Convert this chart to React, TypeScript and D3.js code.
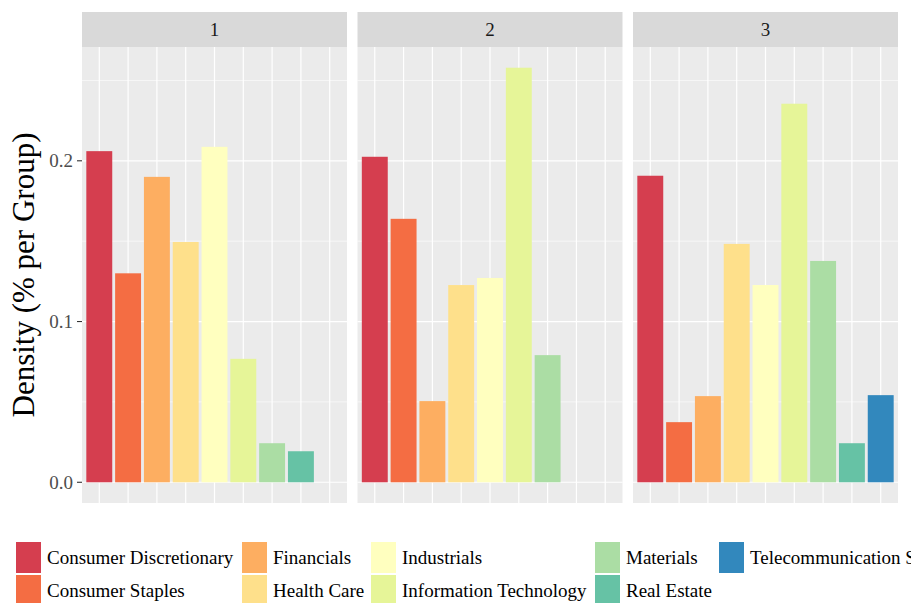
import React from "react";
import * as d3 from "d3";

const categories = [
  "Consumer Discretionary",
  "Consumer Staples",
  "Financials",
  "Health Care",
  "Industrials",
  "Information Technology",
  "Materials",
  "Real Estate",
  "Telecommunication Services",
];
const colors = ["#D53E4F", "#F46D43", "#FDAE61", "#FEE08B", "#FFFFBF", "#E6F598", "#ABDDA4", "#66C2A5", "#3288BD"];
const groups = ["1", "2", "3"];
const group1 = [0.206, 0.13, 0.19, 0.1495, 0.2087, 0.0768, 0.0243, 0.0193, null];
const group2 = [0.2025, 0.1639, 0.0505, 0.1227, 0.1271, 0.2579, 0.0791, null, null];
const group3 = [0.1907, 0.0374, 0.0536, 0.1483, 0.1227, 0.2355, 0.1377, 0.0243, 0.0542];
const yTicks = [0, 0.1, 0.2];
const yMinor = [0.05, 0.15, 0.25];
const yTitle = "Density (% per Group)";

const W = 911;
const H = 603;
const FONT = "'Liberation Serif', 'Times New Roman', serif";

export default function App() {
  const series = [group1, group2, group3];
  const all = series.flat().filter((v) => v != null) as number[];
  const maxV = d3.max(all) as number;
  const top = 47;
  const bottom = 503;
  const y = d3.scaleLinear().domain([-maxV * 0.05, maxV * 1.05]).range([bottom, top]);
  const panelX = [82, 357.5, 633];
  const panelW = 265;
  const stripTop = 12;

  const legendCols = [16, 242, 371, 595, 719];
  const legendRows = [542, 575];
  const keyW = 25;
  const keyH = 31;

  return (
    <svg width={W} height={H} style={{ position: "absolute", left: 0, top: 0, fontFamily: FONT }}>
      <rect width={W} height={H} fill="#fff" />
      {groups.map((g, gi) => {
        const x0 = panelX[gi];
        const step = panelW / (categories.length - 1 + 1.2);
        const cx = (i: number) => x0 + (i + 0.6) * step;
        const bw = step * 0.9;
        return (
          <g key={g}>
            <rect x={x0} y={top} width={panelW} height={bottom - top} fill="#EBEBEB" />
            {yMinor.map((t) => (
              <line key={"m" + t} x1={x0} x2={x0 + panelW} y1={y(t)} y2={y(t)} stroke="#fff" strokeWidth={0.6} />
            ))}
            {yTicks.map((t) => (
              <line key={"M" + t} x1={x0} x2={x0 + panelW} y1={y(t)} y2={y(t)} stroke="#fff" strokeWidth={1.2} />
            ))}
            {categories.map((c, i) => (
              <line key={"v" + c} x1={cx(i)} x2={cx(i)} y1={top} y2={bottom} stroke="#fff" strokeWidth={1.2} />
            ))}
            {series[gi].map((v, i) =>
              v == null ? null : (
                <rect
                  key={"b" + i}
                  x={cx(i) - bw / 2}
                  y={y(v)}
                  width={bw}
                  height={y(0) - y(v)}
                  fill={colors[i]}
                />
              )
            )}
            <rect x={x0} y={stripTop} width={panelW} height={top - stripTop} fill="#D9D9D9" />
            <text
              x={x0 + panelW / 2}
              y={(stripTop + top) / 2}
              dy="0.35em"
              textAnchor="middle"
              fontSize={19}
              fill="#1A1A1A"
            >
              {g}
            </text>
          </g>
        );
      })}
      {yTicks.map((t) => (
        <g key={"yt" + t}>
          <line x1={77} x2={82} y1={y(t)} y2={y(t)} stroke="#333" strokeWidth={1.1} />
          <text x={73} y={y(t)} dy="0.35em" textAnchor="end" fontSize={19} fill="#4D4D4D">
            {d3.format(".1f")(t)}
          </text>
        </g>
      ))}
      <text
        transform={`translate(33.5, ${(top + bottom) / 2}) rotate(-90)`}
        textAnchor="middle"
        fontSize={31}
        fill="#000"
      >
        {yTitle}
      </text>
      {categories.map((c, i) => {
        const col = Math.floor(i / 2);
        const row = i % 2;
        const kx = legendCols[col];
        const ky = legendRows[row];
        return (
          <g key={"lg" + c}>
            <rect x={kx} y={ky} width={keyW} height={keyH} fill={colors[i]} />
            <text x={kx + keyW + 6} y={ky + keyH / 2} dy="0.35em" fontSize={19} fill="#000">
              {c}
            </text>
          </g>
        );
      })}
    </svg>
  );
}
